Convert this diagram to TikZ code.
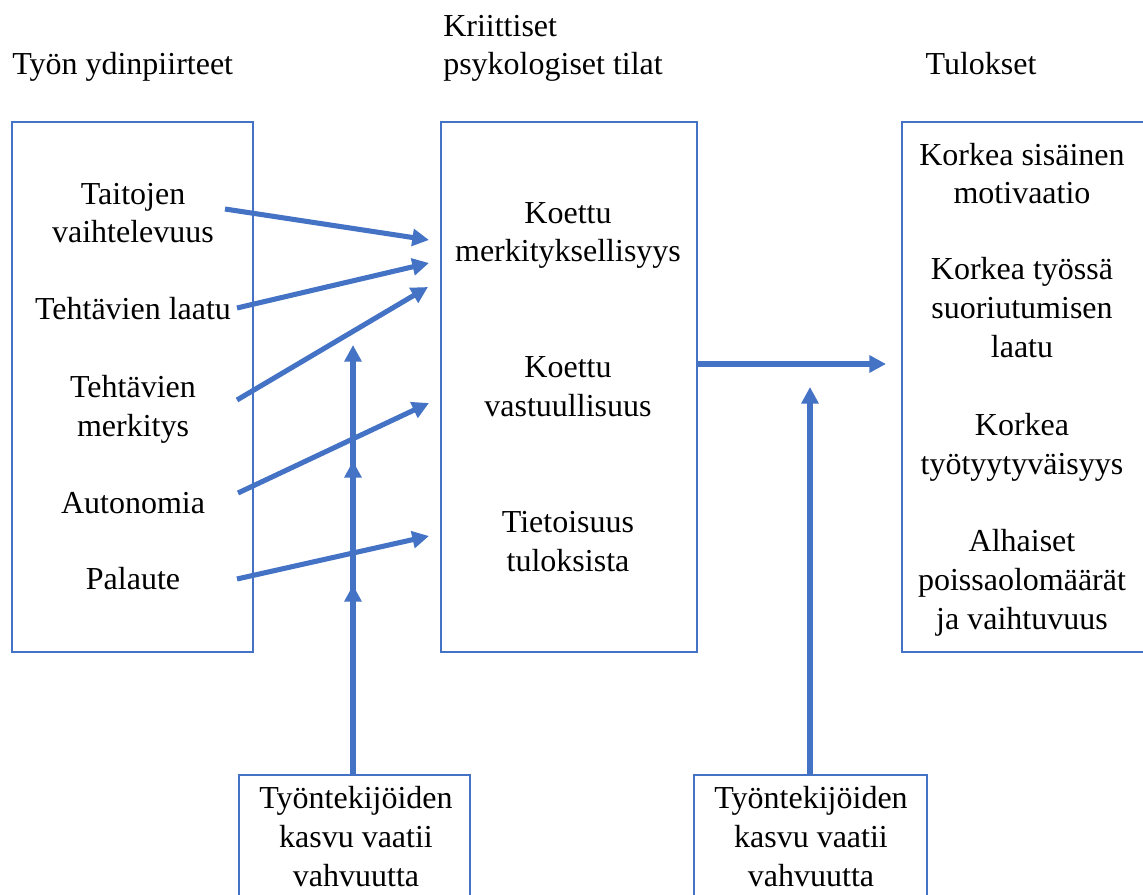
\documentclass[tikz,border=0pt]{standalone}
\usepackage{fontspec}
\setmainfont{Liberation Serif}
\usetikzlibrary{arrows.meta,fit}
\definecolor{accent}{HTML}{4472C4}
\begin{document}
\begin{tikzpicture}[x=0.75pt, y=-0.75pt,
  every node/.style={font=\fontsize{24}{28.9}\selectfont, text=black},
  panel/.style={draw=accent, line width=1.1pt, inner sep=0pt},
  label/.style={align=center, anchor=base, inner sep=0pt},
  heading/.style={align=left, anchor=base west, inner sep=0pt},
  link/.style={draw=accent, line width=3.8pt, -{Triangle[length=12.5pt,width=12.5pt]}},
]
\useasboundingbox (0,0) rectangle (1143,895);
\clip (0,0) rectangle (1143,895);

% column headings (anchored at the baseline of the last line)
\node[heading] (hcore) at (12,75) {Työn ydinpiirteet};
\node[heading] (hstates) at (443,75) {Kriittiset\\psykologiset tilat};
\node[label] (hout) at (981,75) {Tulokset};

% main panels
\node[panel, fit={(12,122) (253,652)}] (core) {};
\node[panel, fit={(441,122) (697,652)}] (states) {};
\node[panel, fit={(902,122) (1165,652)}] (outcomes) {};
\node[panel, fit={(239,775) (470,920)}] (growthA) {};
\node[panel, fit={(694,775) (927,920)}] (growthB) {};

% core job characteristics
\node[label] (skill) at (133,243) {Taitojen\\vaihtelevuus};
\node[label] (ident) at (133,320) {Tehtävien laatu};
\node[label] (signif) at (133,436) {Tehtävien\\merkitys};
\node[label] (auton) at (133,513) {Autonomia};
\node[label] (feedb) at (133,589) {Palaute};

% critical psychological states
\node[label] (mean) at (568,262) {Koettu\\merkityksellisyys};
\node[label] (resp) at (568,416) {Koettu\\vastuullisuus};
\node[label] (know) at (568,571) {Tietoisuus\\tuloksista};

% outcomes
\node[label] (o1) at (1022,204) {Korkea sisäinen\\motivaatio};
\node[label] (o2) at (1022,357) {Korkea työssä\\suoriutumisen\\laatu};
\node[label] (o3) at (1022,474) {Korkea\\työtyytyväisyys};
\node[label] (o4) at (1022,629) {Alhaiset\\poissaolomäärät\\ja vaihtuvuus};

% moderators
\node[label] (gA) at (356,886) {Työntekijöiden\\kasvu vaatii\\vahvuutta};
\node[label] (gB) at (811,886) {Työntekijöiden\\kasvu vaatii\\vahvuutta};

% arrow end points
\coordinate (s1) at (225,209);  \coordinate (e1) at (429,240);
\coordinate (s2) at (237,308);  \coordinate (e2) at (429,263);
\coordinate (s3) at (237,400);  \coordinate (e3) at (428,287);
\coordinate (s4) at (238,493);  \coordinate (e4) at (429,403);
\coordinate (s5) at (237,579);  \coordinate (e5) at (429,536);
\coordinate (v1) at (353,585);
\coordinate (v2) at (353,461);
\coordinate (v3) at (353,345);
\coordinate (h) at (886,364);
\coordinate (w) at (810,387);

% characteristics to states
\draw[link] (s1) -- (e1);
\draw[link] (s2) -- (e2);
\draw[link] (s3) -- (e3);
\draw[link] (s4) -- (e4);
\draw[link] (s5) -- (e5);

% moderator on the first link: one continuous shaft with two extra heads on it
\draw[link] (growthA.north -| v3) -- (v3);
\draw[link] ([yshift=-20pt]v1) -- (v1);
\draw[link] ([yshift=-20pt]v2) -- (v2);

% states to outcomes
\draw[link] (states.east |- h) -- (h);
\draw[link] (growthB.north -| w) -- (w);
\end{tikzpicture}
\end{document}
